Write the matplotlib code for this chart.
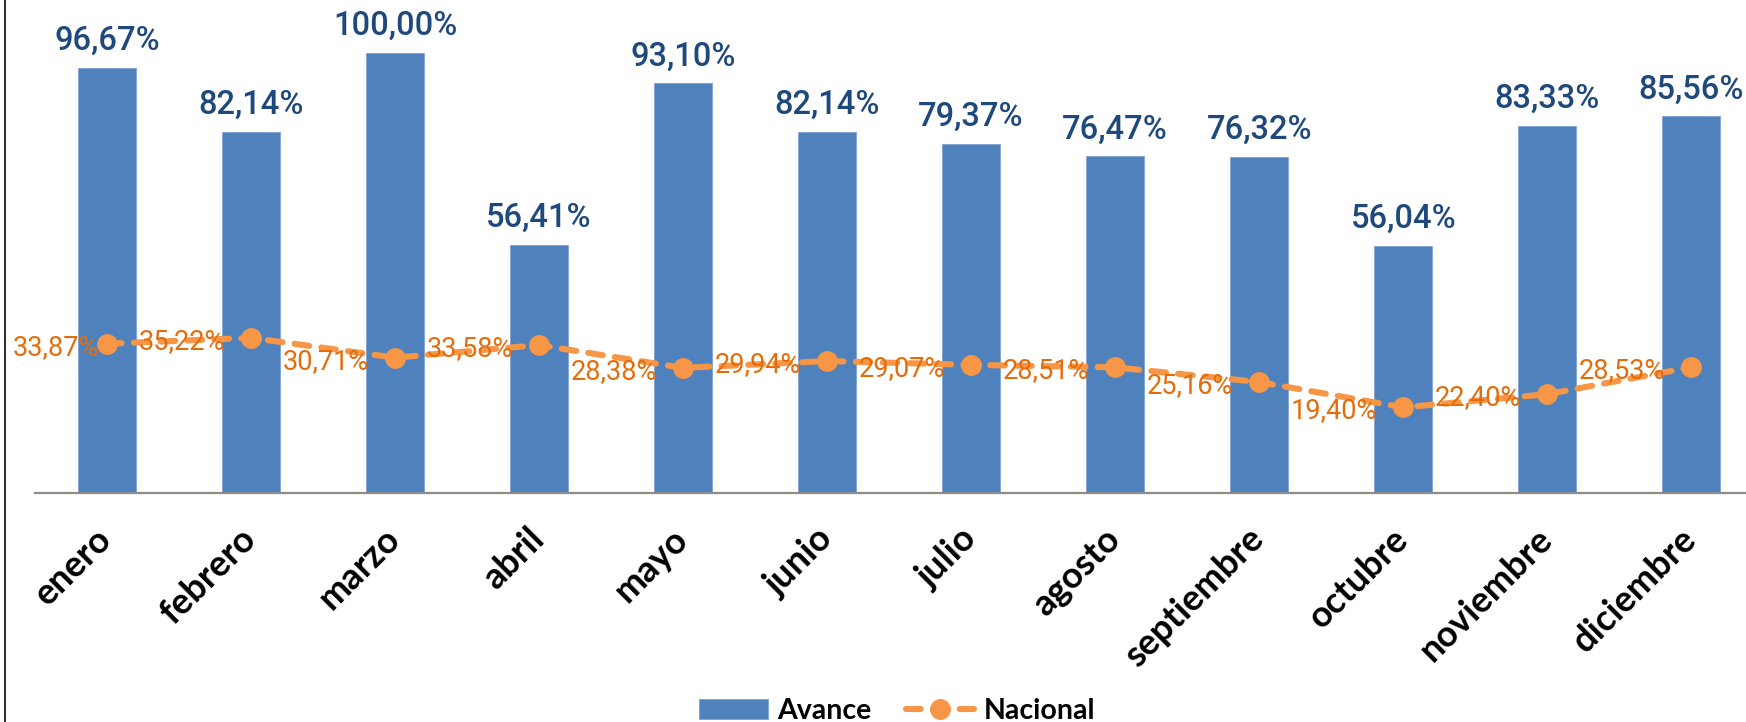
import matplotlib.pyplot as plt
from matplotlib.lines import Line2D
from matplotlib.transforms import ScaledTranslation

# --------------------------
# Data
# --------------------------
months = ["enero", "febrero", "marzo", "abril", "mayo", "junio", "julio",
          "agosto", "septiembre", "octubre", "noviembre", "diciembre"]
avance = [96.67, 82.14, 100.00, 56.41, 93.10, 82.14, 79.37,
          76.47, 76.32, 56.04, 83.33, 85.56]
nacional = [33.87, 35.22, 30.71, 33.58, 28.38, 29.94, 29.07,
            28.51, 25.16, 19.40, 22.40, 28.53]

BAR_COLOR = "#4F81BD"
BAR_TEXT = "#1F497D"
LINE_COLOR = "#F79646"
LINE_TEXT = "#E46C0A"


def pct(v):
    return f"{v:.2f}%".replace(".", ",")


# --------------------------
# Figure
# --------------------------
fig = plt.figure(figsize=(17.46, 7.22), dpi=100)
ax = fig.add_axes([0.02, 0.3176, 0.98, 0.6824])

x = list(range(len(months)))
bars = ax.bar(x, avance, width=0.40, color=BAR_COLOR, edgecolor="#7FA3D3",
              linewidth=0.6, label="Avance", zorder=2)
line, = ax.plot(x, nacional, color=LINE_COLOR, lw=4.4, dashes=(2.4, 2.0),
                dash_capstyle="round", marker="o", markersize=14,
                markeredgecolor=LINE_COLOR, label="Nacional", zorder=3)

# bar labels
for i, v in enumerate(avance):
    ax.annotate(pct(v), xy=(i, v), xytext=(0, 18), textcoords="offset pixels",
                ha="center", va="baseline", fontsize=23.5, fontweight="medium",
                family="Roboto", color=BAR_TEXT, zorder=4)

# line labels, left of each point (first one nudged in so it stays in frame)
for i, v in enumerate(nacional):
    dx = -8 if i == 0 else -26
    ax.annotate(pct(v), xy=(i, v), xytext=(dx, -11), textcoords="offset pixels",
                ha="right", va="baseline", fontsize=19.5, family="Roboto",
                color=LINE_TEXT, zorder=4)

ax.set_xlim(-0.5, 11.38)
ax.set_ylim(0, 112.05)

for side in ["top", "right", "left"]:
    ax.spines[side].set_visible(False)
ax.spines["bottom"].set_color("#8C8C8C")
ax.spines["bottom"].set_linewidth(1.6)
ax.set_yticks([])

ax.set_xticks(x)
ax.set_xticklabels(months, rotation=45, ha="right", va="top",
                   rotation_mode="anchor", fontsize=26, fontweight="bold",
                   family="Lato")
ax.tick_params(axis="x", length=0, pad=21)
shift = ScaledTranslation(-12 / 100, 0, fig.dpi_scale_trans)
for lbl in ax.get_xticklabels():
    lbl.set_transform(lbl.get_transform() + shift)

# legend at the bottom
fig.legend([bars, line], ["Avance", "Nacional"], loc="center",
           bbox_to_anchor=(0.514, 0.0152), ncol=2,
           frameon=False, handlelength=2.4, handletextpad=0.35,
           columnspacing=1.2,
           prop={"family": "Lato", "weight": "bold", "size": 20.5})

# left frame edge of the original chart box
fig.add_artist(Line2D([0.0027, 0.0027], [0, 1], transform=fig.transFigure,
                      color="#333333", lw=1.5))

plt.savefig("out.png", dpi=100)
